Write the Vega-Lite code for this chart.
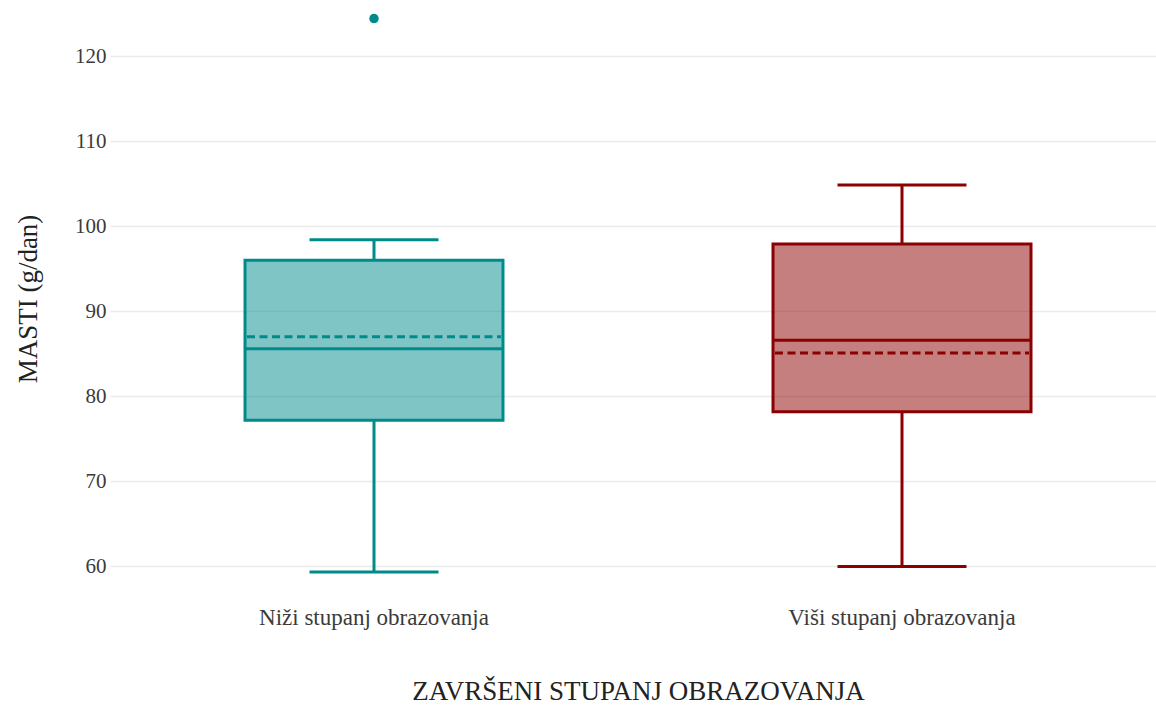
{
  "$schema": "https://vega.github.io/schema/vega-lite/v6.json",
  "autosize": "none",
  "padding": {"left": 110, "top": 5, "right": 0, "bottom": 118},
  "width": 1046,
  "height": 587,
  "background": "white",
  "config": {
    "view": {"stroke": null},
    "font": "Liberation Serif",
    "axis": {"labelFont": "Liberation Serif", "titleFont": "Liberation Serif", "titleFontWeight": "normal", "labelLimit": 0}
  },
  "datasets": {
    "stats": [
      {"grupa": "Niži stupanj obrazovanja", "min": 59.35, "q1": 77.2, "median": 85.6, "mean": 87.0, "q3": 96.0, "max": 98.4},
      {"grupa": "Viši stupanj obrazovanja", "min": 60.0, "q1": 78.2, "median": 86.6, "mean": 85.1, "q3": 97.9, "max": 104.85}
    ],
    "outliers": [
      {"grupa": "Niži stupanj obrazovanja", "value": 124.4}
    ]
  },
  "data": {"name": "stats"},
  "encoding": {
    "x": {
      "field": "grupa", "type": "nominal", "sort": null,
      "scale": {"type": "band", "range": [0, 1056], "paddingInner": 0, "paddingOuter": 0},
      "axis": {
        "title": "ZAVRŠENI STUPANJ OBRAZOVANJA",
        "labelAngle": 0, "grid": false, "ticks": false, "domain": false,
        "labelFontSize": 23, "labelColor": "#3a3a3a", "labelPadding": 14, "labelLimit": 0,
        "titleFontSize": 27, "titleColor": "#222222", "titlePadding": 49
      }
    },
    "color": {
      "field": "grupa", "type": "nominal", "legend": null,
      "scale": {"domain": ["Niži stupanj obrazovanja", "Viši stupanj obrazovanja"], "range": ["#008B8B", "#8B0000"]}
    }
  },
  "layer": [
    {
      "mark": {"type": "rule", "strokeWidth": 3},
      "encoding": {
        "y": {"field": "min", "type": "quantitative", "scale": {"domain": [57, 126], "nice": false, "zero": false},
          "axis": {
            "title": "MASTI (g/dan)", "values": [60, 70, 80, 90, 100, 110, 120],
            "grid": true, "gridColor": "#ebebeb", "gridWidth": 1.5, "ticks": false, "domain": false,
            "labelFontSize": 21, "labelColor": "#3a3a3a", "labelPadding": 4,
            "titleFontSize": 27, "titleColor": "#222222", "titlePadding": 32
          }},
        "y2": {"field": "q1"}
      }
    },
    {
      "mark": {"type": "rule", "strokeWidth": 3},
      "encoding": {
        "y": {"field": "q3", "type": "quantitative"},
        "y2": {"field": "max"}
      }
    },
    {
      "mark": {"type": "bar", "width": {"band": 0.4886}, "fillOpacity": 0.5, "strokeWidth": 3},
      "encoding": {
        "y": {"field": "q1", "type": "quantitative"},
        "y2": {"field": "q3"},
        "stroke": {"field": "grupa", "type": "nominal", "legend": null,
          "scale": {"domain": ["Niži stupanj obrazovanja", "Viši stupanj obrazovanja"], "range": ["#008B8B", "#8B0000"]}}
      }
    },
    {
      "mark": {"type": "rule", "strokeWidth": 3, "xOffset": -64.5, "x2Offset": 64.5},
      "encoding": {
        "x": {"field": "grupa", "type": "nominal", "sort": null, "bandPosition": 0.5},
        "x2": {"field": "grupa", "bandPosition": 0.5},
        "y": {"field": "min", "type": "quantitative"}
      }
    },
    {
      "mark": {"type": "rule", "strokeWidth": 3, "xOffset": -64.5, "x2Offset": 64.5},
      "encoding": {
        "x": {"field": "grupa", "type": "nominal", "sort": null, "bandPosition": 0.5},
        "x2": {"field": "grupa", "bandPosition": 0.5},
        "y": {"field": "max", "type": "quantitative"}
      }
    },
    {
      "mark": {"type": "rule", "strokeWidth": 3, "xOffset": -129, "x2Offset": 129},
      "encoding": {
        "x": {"field": "grupa", "type": "nominal", "sort": null, "bandPosition": 0.5},
        "x2": {"field": "grupa", "bandPosition": 0.5},
        "y": {"field": "median", "type": "quantitative"}
      }
    },
    {
      "mark": {"type": "rule", "strokeWidth": 3, "strokeDash": [8, 4.5], "xOffset": -127, "x2Offset": 127},
      "encoding": {
        "x": {"field": "grupa", "type": "nominal", "sort": null, "bandPosition": 0.5},
        "x2": {"field": "grupa", "bandPosition": 0.5},
        "y": {"field": "mean", "type": "quantitative"}
      }
    },
    {
      "data": {"name": "outliers"},
      "mark": {"type": "circle", "size": 90, "opacity": 1},
      "encoding": {
        "y": {"field": "value", "type": "quantitative"}
      }
    }
  ]
}
